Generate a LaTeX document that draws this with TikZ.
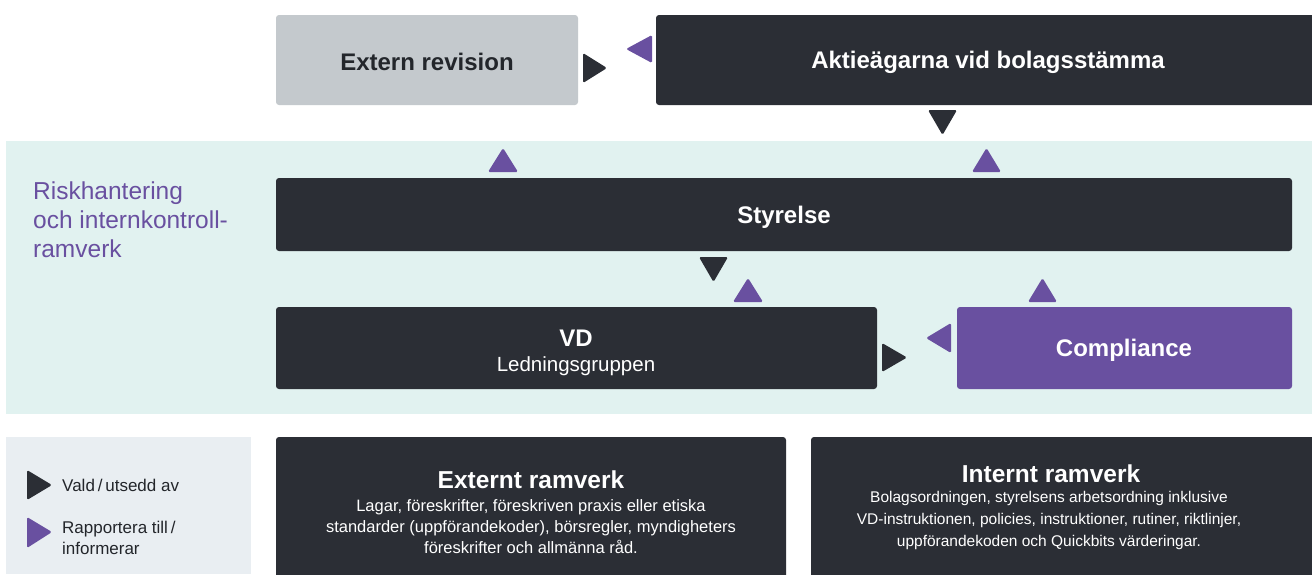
\documentclass[tikz,border=0pt]{standalone}
\usepackage{fontspec}
\setmainfont{Liberation Sans}
\definecolor{dk}{HTML}{2B2E35}
\definecolor{pu}{HTML}{6950A0}
\definecolor{tealbg}{HTML}{E1F2F0}
\definecolor{grbox}{HTML}{C4C9CD}
\definecolor{legbg}{HTML}{E9EEF2}
\definecolor{txdk}{HTML}{23262B}
\begin{document}
\begin{tikzpicture}[x=1pt,y=-1pt,
  box/.style={fill=dk,rounded corners=3pt},
  lightbox/.style={fill=grbox,rounded corners=3pt},
  pubox/.style={fill=pu,rounded corners=3pt},
  ttl/.style={font=\fontsize{24}{28}\selectfont\bfseries,inner sep=0pt},
  body/.style={font=\fontsize{16.5}{21}\selectfont,inner sep=0pt},
  blk/.style={fill=dk,rounded corners=1.5pt},
  ptri/.style={fill=pu,rounded corners=1.5pt}]
\useasboundingbox (0,0) rectangle (1312,574);
\fill[white] (0,0) rectangle (1312,574);
% background band
\fill[tealbg] (6,141) rectangle (1312,414);
\fill[legbg] (6,437) rectangle (251,574);
% boxes
\fill[lightbox] (276,15) rectangle (578,105);
\node[ttl,text=txdk] (ext) at (427,62) {Extern revision};
\fill[box] (656,15) rectangle (1318,105);
\node[ttl,text=white] (akt) at (988,62.5) {Aktieägarna vid bolagsstämma};
\fill[box] (276,178) rectangle (1292,251);
\node[ttl,text=white] (sty) at (784,217.5) {Styrelse};
\fill[box] (276,307) rectangle (877,389);
\node[ttl,text=white] (vd) at (576,338) {VD};
\node[text=white,font=\fontsize{20.5}{24}\selectfont,inner sep=0pt] (led) at (576,366.5) {Ledningsgruppen};
\fill[pubox] (957,307) rectangle (1292,389);
\node[ttl,text=white] (comp) at (1124,350.5) {Compliance};
% side label
\node[anchor=north west,align=left,text=pu,font=\fontsize{24.5}{29}\selectfont,inner sep=0pt] (risk) at (33,182) {Riskhantering\\och internkontroll-\\ramverk};
% bottom boxes
\fill[box] (276,437) rectangle (786,590);
\node[ttl,text=white,font=\fontsize{24.5}{28}\selectfont\bfseries] (extt) at (531,480) {Externt ramverk};
\node[body,text=white,align=center] (extb) at (531,526.5) {Lagar, föreskrifter, föreskriven praxis eller etiska\\standarder (uppförandekoder), börsregler, myndigheters\\föreskrifter och allmänna råd.};
\fill[box] (811,437) rectangle (1318,590);
\node[ttl,text=white,font=\fontsize{24.5}{28}\selectfont\bfseries] (intt) at (1051,474) {Internt ramverk};
\node[text=white,align=center,font=\fontsize{15.5}{22}\selectfont,inner sep=0pt] (intb) at (1049,520) {Bolagsordningen, styrelsens arbetsordning inklusive\\VD-instruktionen, policies, instruktioner, rutiner, riktlinjer,\\uppförandekoden och Quickbits värderingar.};
% legend
\fill[blk] (27,470) -- (52,485) -- (27,500) -- cycle;
\node[anchor=west,text=txdk,font=\fontsize{17}{21}\selectfont,inner sep=0pt] (l1) at (62,485) {Vald\,/\,utsedd av};
\fill[ptri] (27,517) -- (52,532) -- (27,548) -- cycle;
\node[anchor=west,align=left,text=txdk,font=\fontsize{17}{21}\selectfont,inner sep=0pt] (l2) at (62,537.5) {Rapportera till\,/\\informerar};
% triangles
\fill[blk] (583,53) -- (607,68) -- (583,83) -- cycle;
\fill[ptri] (652,35) -- (626,49) -- (652,63) -- cycle;
\fill[blk] (928,110) -- (957,110) -- (942.5,135) -- cycle;
\fill[ptri] (488,172) -- (518,172) -- (503,148) -- cycle;
\fill[ptri] (972,172) -- (1001,172) -- (986.5,148) -- cycle;
\fill[blk] (699,257) -- (728,257) -- (713.5,282) -- cycle;
\fill[ptri] (733,302) -- (763,302) -- (748,278) -- cycle;
\fill[ptri] (1028,302) -- (1057,302) -- (1042.5,278) -- cycle;
\fill[blk] (882,343) -- (907,357.5) -- (882,372) -- cycle;
\fill[ptri] (951,323) -- (926,338) -- (951,353) -- cycle;
\end{tikzpicture}
\end{document}
